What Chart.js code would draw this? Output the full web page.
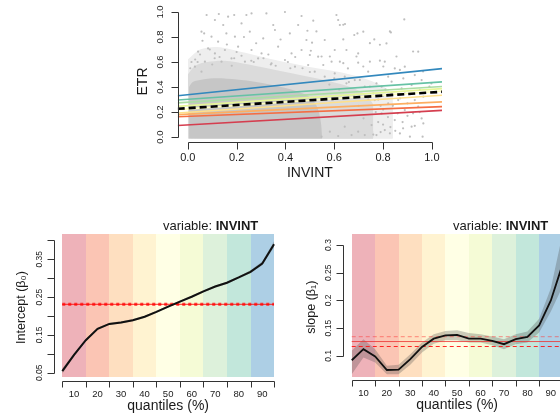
<!DOCTYPE html>
<html><head><meta charset="utf-8">
<script src="https://cdn.jsdelivr.net/npm/chart.js@4/dist/chart.umd.min.js"></script>
<style>
html,body{margin:0;padding:0;overflow:hidden;background:#fff;width:560px;height:414px;}
canvas{position:absolute;left:0;top:0;}
</style></head><body>
<canvas id="cTop" width="560" height="200"></canvas>
<canvas id="cLeft" width="300" height="414"></canvas>
<canvas id="cRight" width="600" height="414"></canvas>
<script>
// ---------------- DATA ----------------
const quantiles = [5,10,15,20,25,30,35,40,45,50,55,60,65,70,75,80,85,90,95];
const interceptEst  = [0.054,0.097,0.136,0.166,0.179,0.183,0.189,0.198,0.211,0.225,0.238,0.251,0.265,0.278,0.288,0.302,0.317,0.339,0.390];
const interceptLow  = [0.047,0.093,0.133,0.163,0.176,0.180,0.186,0.195,0.208,0.222,0.235,0.248,0.262,0.275,0.285,0.299,0.313,0.334,0.382];
const interceptHigh = [0.061,0.101,0.139,0.169,0.182,0.186,0.192,0.201,0.214,0.228,0.241,0.254,0.268,0.281,0.291,0.305,0.321,0.344,0.398];
const slopeEst  = [0.092,0.112,0.099,0.0745,0.075,0.094,0.116,0.131,0.137,0.1376,0.131,0.131,0.127,0.121,0.130,0.134,0.155,0.200,0.265];
const slopeLow  = [0.067,0.097,0.088,0.067,0.067,0.084,0.106,0.122,0.128,0.128,0.124,0.124,0.119,0.112,0.121,0.124,0.142,0.180,0.225];
const slopeHigh = [0.109,0.130,0.112,0.082,0.084,0.103,0.124,0.139,0.145,0.146,0.141,0.139,0.135,0.130,0.139,0.144,0.167,0.222,0.320];
const olsIntercept = 0.231, olsInterceptLow = 0.2295, olsInterceptHigh = 0.2325;
const olsSlope = 0.1258, olsSlopeLow = 0.1168, olsSlopeHigh = 0.1348;
const decileQuantiles = [10,20,30,40,50,60,70,80,90];
const bandCenters = [10,20,30,40,50,60,70,80,90];

const topXTicks = [0,0.2,0.4,0.6,0.8,1.0];
const topXLabels = ['0.0','0.2','0.4','0.6','0.8','1.0'];
const topYTicks = [0,0.2,0.4,0.6,0.8,1.0];
const topYLabels = ['0.0','0.2','0.4','0.6','0.8','1.0'];
const qTicks = [5,15,25,35,45,55,65,75,85,95];
const qLabelPos = [10,20,30,40,50,60,70,80,90];
const qLabels = ['10','20','30','40','50','60','70','80','90'];
const interceptTicks = [0.05,0.10,0.15,0.20,0.25,0.30,0.35,0.40];
const interceptTickLabels = ['0.05',null,'0.15',null,'0.25',null,'0.35',null];
const slopeTicks = [0.1,0.15,0.2,0.25,0.3];
const slopeTickLabels = ['0.1','0.15','0.2','0.25','0.3'];

// upper outlines of the dense parts of the ETR / INVINT cloud
const cloudOuterTop = [[0.0,0.62],[0.05,0.70],[0.12,0.72],[0.22,0.68],[0.35,0.62],[0.50,0.56],[0.62,0.52],[0.75,0.45],[0.83,0.36],[0.86,0.22],[0.86,0.08],[0.84,0.0]];
const cloudHaloTop = [[0.0,0.50],[0.03,0.57],[0.08,0.60],[0.15,0.61],[0.25,0.58],[0.35,0.54],[0.45,0.50],[0.55,0.46],[0.65,0.41],[0.72,0.35],[0.76,0.26],[0.78,0.14],[0.775,0.05],[0.76,0.0]];
const cloudCoreTop = [[0.005,0.40],[0.02,0.44],[0.06,0.46],[0.12,0.47],[0.20,0.46],[0.28,0.44],[0.36,0.41],[0.44,0.37],[0.50,0.32],[0.53,0.24],[0.545,0.12],[0.55,0.0]];
// individual sparse firms
const cloudPoints = [
[0.077,0.976],[0.127,0.984],[0.165,0.963],[0.19,0.976],[0.24,0.976],[0.261,0.989],[0.322,0.989],[0.398,1.0],[0.466,0.968],[0.111,0.936],[0.145,0.896],[0.22,0.909],[0.35,0.896],[0.452,0.896],[0.056,0.843],[0.067,0.829],[0.097,0.803],[0.124,0.763],[0.158,0.829],[0.193,0.803],[0.254,0.843],[0.309,0.789],[0.357,0.856],[0.418,0.829],[0.486,0.776],[0.042,0.683],[0.083,0.709],[0.111,0.669],[0.152,0.696],[0.206,0.723],[0.261,0.696],[0.302,0.669],[0.37,0.723],[0.425,0.669],[0.466,0.696],[0.5,0.656],[0.029,0.563],[0.056,0.523],[0.07,0.603],[0.138,0.603],[0.179,0.629],[0.234,0.603],[0.288,0.629],[0.343,0.589],[0.398,0.616],[0.439,0.563],[0.493,0.576],
[0.04,0.6],[0.1,0.58],[0.13,0.64],[0.18,0.57],[0.22,0.65],[0.27,0.6],[0.31,0.63],[0.36,0.57],[0.41,0.6],[0.47,0.55],[0.05,0.66],[0.09,0.7],[0.2,0.68],[0.33,0.66],[0.44,0.64],[0.16,0.74],[0.28,0.75],[0.06,0.77],[0.38,0.78],[0.23,0.8],
[0.609,0.976],[0.616,0.936],[0.887,0.941],[0.514,0.931],[0.623,0.896],[0.644,0.904],[0.49,0.85],[0.695,0.829],[0.682,0.816],[0.719,0.843],[0.832,0.837],[0.509,0.755],[0.561,0.776],[0.637,0.781],[0.764,0.781],[0.814,0.749],[0.504,0.69],[0.602,0.696],[0.65,0.696],[0.944,0.683],[0.698,0.669],[0.534,0.643],[0.623,0.603],[0.589,0.603],[0.698,0.595],[0.746,0.603],[0.787,0.611],[0.807,0.603],[0.889,0.563],[0.848,0.549],[0.656,0.549],[0.555,0.576],[0.739,0.523],[0.821,0.483],[0.883,0.469],[0.93,0.496],[0.958,0.456],[0.876,0.389],[0.917,0.416],[0.998,0.429],[0.835,0.349],[0.93,0.296],[0.965,0.323],[0.944,0.243],[0.889,0.216],[0.958,0.149],[0.965,0.109],[0.962,0.003],[0.917,0.083],[0.869,0.029],[0.848,0.136],[0.807,0.056],[0.773,0.016],[0.794,0.189],[0.753,0.096],[0.725,0.016],[0.821,0.269],[0.766,0.296],[0.698,0.043],[0.671,0.016],[0.643,0.083],[0.616,0.008],[0.582,0.043],[0.548,0.003],[0.862,0.296],[0.889,0.349],[0.794,0.403],[0.835,0.443],[0.773,0.429],[0.725,0.403],[0.684,0.456],[0.643,0.483],[0.602,0.509],[0.561,0.483],[0.52,0.523],
[0.8,0.22],[0.82,0.16],[0.78,0.12],[0.84,0.25],[0.86,0.19],[0.8,0.33],[0.83,0.08],[0.79,0.04],[0.88,0.12],[0.9,0.27],[0.87,0.31],[0.81,0.38],[0.85,0.05],[0.77,0.2],[0.78,0.3],[0.9,0.17],[0.93,0.09],[0.95,0.2],
[0.637,0.898],[0.828,0.845],[0.746,0.751],[0.787,0.738],[0.855,0.644],[0.923,0.684],[0.964,0.524],[0.869,0.537],[0.801,0.564],[0.719,0.564],[0.637,0.591],[0.548,0.644],[0.691,0.644],[0.582,0.644],[0.527,0.845],[0.746,0.404],[0.705,0.457],[0.65,0.43],[0.99,0.404],[0.951,0.377],[0.923,0.19],[0.882,0.07],[0.828,0.03],[0.91,0.003],
[0.58,0.42],[0.62,0.38],[0.68,0.33],[0.7,0.25],[0.72,0.15],[0.74,0.3],[0.66,0.44],[0.6,0.47],[0.5,0.52],[0.42,0.55],[0.34,0.58],[0.26,0.61],[0.19,0.63],[0.11,0.63],[0.03,0.62],[0.01,0.55],[0.015,0.6],[0.76,0.35],[0.79,0.25],[0.8,0.1],[0.76,0.02]
];

// ---------------- STYLE ----------------
const spectral = ['#D53E4F','#F46D43','#FDAE61','#FEE08B','#FFFFBF','#E6F598','#ABDDA4','#66C2A5','#3288BD'];
const FONT = '"Liberation Sans", Arial, Helvetica, sans-serif';
Chart.defaults.font.family = FONT;
Chart.defaults.animation = false;

function hexA(hex, a){
  const n = parseInt(hex.slice(1),16);
  return `rgba(${(n>>16)&255},${(n>>8)&255},${n&255},${a})`;
}

// R-style axes drawn with the chart's own scales
function rAxisPlugin(spec){
  return { id:'rAxis', afterDraw(chart){
    const {ctx, chartArea:a} = chart;
    const sx = chart.scales.x, sy = chart.scales.y;
    ctx.save();
    ctx.strokeStyle = '#333'; ctx.fillStyle = '#1a1a1a'; ctx.lineWidth = 1;
    const b = spec.bottom;
    const ay = Math.round(a.bottom + b.offset) + 0.5;
    ctx.beginPath();
    ctx.moveTo(Math.round(sx.getPixelForValue(b.ticks[0]))+0.5, ay);
    ctx.lineTo(Math.round(sx.getPixelForValue(b.ticks[b.ticks.length-1]))+0.5, ay);
    b.ticks.forEach(t=>{ const X = Math.round(sx.getPixelForValue(t))+0.5; ctx.moveTo(X, ay); ctx.lineTo(X, ay + b.tickLen); });
    ctx.stroke();
    ctx.font = b.font; ctx.textAlign = 'center'; ctx.textBaseline = 'middle';
    b.labelAt.forEach((v,i)=>{ if(b.labels[i]!=null) ctx.fillText(b.labels[i], sx.getPixelForValue(v), ay + b.labelGap); });
    const l = spec.left;
    const ax = Math.round(a.left + l.offset) + 0.5;
    ctx.beginPath();
    ctx.moveTo(ax, Math.round(sy.getPixelForValue(l.ticks[0]))+0.5);
    ctx.lineTo(ax, Math.round(sy.getPixelForValue(l.ticks[l.ticks.length-1]))+0.5);
    l.ticks.forEach(t=>{ const Y = Math.round(sy.getPixelForValue(t))+0.5; ctx.moveTo(ax, Y); ctx.lineTo(ax - l.tickLen, Y); });
    ctx.stroke();
    ctx.font = l.font;
    l.ticks.forEach((v,i)=>{ if(l.labels[i]!=null){ ctx.save(); ctx.translate(ax - l.labelGap, sy.getPixelForValue(v)); ctx.rotate(-Math.PI/2); ctx.fillText(l.labels[i],0,0); ctx.restore(); } });
    const t = spec.titles;
    ctx.font = t.xFont; ctx.fillText(t.x, (a.left+a.right)/2, ay + t.xGap);
    ctx.save(); ctx.font = t.yFont; ctx.translate(ax - t.yGap, t.yCenter!=null ? t.yCenter : (a.top+a.bottom)/2); ctx.rotate(-Math.PI/2); ctx.fillText(t.y,0,0); ctx.restore();
    if(t.main){
      ctx.textAlign = 'left';
      ctx.font = 'bold ' + t.mainFont; const wb = ctx.measureText(t.mainBold).width;
      ctx.font = t.mainFont; const wn = ctx.measureText(t.main).width;
      const right = a.right - t.mainRightInset, yy = a.top - t.mainGap;
      ctx.fillText(t.main, right - wb - wn, yy);
      ctx.font = 'bold ' + t.mainFont; ctx.fillText(t.mainBold, right - wb, yy);
    }
    ctx.restore();
  }};
}

// coloured quantile bands behind the coefficient curves
function bandPlugin(bottomValue){
  return { id:'bands', beforeDatasetsDraw(chart){
    const {ctx} = chart; const sx = chart.scales.x, sy = chart.scales.y;
    ctx.save();
    bandCenters.forEach((c,i)=>{
      const x0 = Math.round(sx.getPixelForValue(c-5)), x1 = Math.round(sx.getPixelForValue(c+5));
      const y0 = Math.round(sy.getPixelForValue(sy.max)), y1 = Math.round(sy.getPixelForValue(bottomValue));
      ctx.fillStyle = hexA(spectral[i], 0.4);
      ctx.fillRect(x0, y0, x1-x0, y1-y0);
    });
    ctx.restore();
  }};
}

// ---------------- TOP: scatter with quantile lines ----------------
const topXMin = -0.0415, topXMax = 1.0415, topYMin = -0.042, topYMax = 1.04;
const pts = arr => arr.map(p=>({x:p[0], y:p[1]}));
const abline = (a,b) => [{x:topXMin, y:a + b*topXMin},{x:topXMax, y:a + b*topXMax}];

const topDatasets = [
  {data: pts(cloudOuterTop), fill:{value:-0.012}, backgroundColor:'#EEEEEE', borderWidth:0, pointRadius:0, tension:0.3, order:31},
  {data: pts(cloudHaloTop), fill:{value:-0.012}, backgroundColor:'#DBDBDB', borderWidth:0, pointRadius:0, tension:0.3, order:30},
  {data: pts(cloudCoreTop), fill:{value:-0.012}, backgroundColor:'#C6C6C6', borderWidth:0, pointRadius:0, tension:0.3, order:29},
  {data: pts(cloudPoints), showLine:false, pointRadius:1.1, pointBackgroundColor:'#BEBEBE', pointBorderWidth:0, order:28}
];
decileQuantiles.forEach((q,i)=>{
  const k = quantiles.indexOf(q);
  topDatasets.push({data: abline(interceptEst[k], slopeEst[k]), borderColor: spectral[i], borderWidth:1.6, pointRadius:0, fill:false, order:20-i});
});
topDatasets.push({data: abline(olsIntercept, olsSlope), borderColor:'#000', borderWidth:2.6, borderDash:[7,4], pointRadius:0, fill:false, order:0});

new Chart(document.getElementById('cTop'), {
  type:'line',
  data:{datasets: topDatasets},
  options:{
    responsive:false, animation:false,
    layout:{padding:{left:177.7, right:560-442, top:7, bottom:200-142.3}},
    plugins:{legend:{display:false}, tooltip:{enabled:false}},
    scales:{x:{type:'linear', min:topXMin, max:topXMax, display:false}, y:{type:'linear', min:topYMin, max:topYMax, display:false}}
  },
  plugins:[rAxisPlugin({
    bottom:{offset:0, ticks:topXTicks, labelAt:topXTicks, labels:topXLabels, tickLen:7, labelGap:15.7, font:'11px '+FONT},
    left:{offset:0, ticks:topYTicks, labels:topYLabels, tickLen:7, labelGap:17.7, font:'9.5px '+FONT},
    titles:{x:'INVINT', xFont:'14px '+FONT, xGap:30.5, y:'ETR', yFont:'14px '+FONT, yGap:35.2, yCenter:81.5}
  })]
});

// ---------------- BOTTOM LEFT: intercept ----------------
const qx = arr => quantiles.map((q,i)=>({x:q, y:arr[i]}));
const hline = v => [{x:quantiles[0], y:v},{x:quantiles[quantiles.length-1], y:v}];

new Chart(document.getElementById('cLeft'), {
  type:'line',
  data:{datasets:[
    {data: qx(interceptLow), borderWidth:0, pointRadius:0, fill:false, order:10},
    {data: qx(interceptHigh), borderWidth:0, pointRadius:0, fill:'-1', backgroundColor:'rgba(70,70,70,0.28)', order:9},
    {data: qx(interceptEst), borderColor:'#111', borderWidth:2, pointRadius:0, fill:false, order:1},
    {data: hline(olsIntercept), borderColor:'rgba(255,0,0,0.85)', borderWidth:1, pointRadius:0, fill:false, order:2},
    {data: hline(olsInterceptLow), borderColor:'rgba(255,40,40,0.85)', borderWidth:2, borderDash:[3,3], pointRadius:0, fill:false, order:2},
    {data: hline(olsInterceptHigh), borderColor:'rgba(255,40,40,0.85)', borderWidth:2, borderDash:[3,3], pointRadius:0, fill:false, order:2}
  ]},
  options:{
    responsive:false, animation:false,
    layout:{padding:{left:53.8, right:300-282.5, top:234, bottom:414-381}},
    plugins:{legend:{display:false}, tooltip:{enabled:false}},
    scales:{x:{type:'linear', min:1.4, max:98.6, display:false}, y:{type:'linear', min:0.02803, max:0.41697, display:false}}
  },
  plugins:[bandPlugin(0.0378), rAxisPlugin({
    bottom:{offset:0, ticks:qTicks, labelAt:qLabelPos, labels:qLabels, tickLen:6, labelGap:12.5, font:'9.5px '+FONT},
    left:{offset:0, ticks:interceptTicks, labels:interceptTickLabels, tickLen:7, labelGap:15, font:'8.5px '+FONT},
    titles:{x:'quantiles (%)', xFont:'14px '+FONT, xGap:24.5, y:'Intercept (β₀)', yFont:'12.5px '+FONT, yGap:32.8,
            main:'variable: ', mainBold:'INVINT', mainFont:'13px '+FONT, mainRightInset:24.2, mainGap:8}
  })]
});

// ---------------- BOTTOM RIGHT: slope ----------------
new Chart(document.getElementById('cRight'), {
  type:'line',
  data:{datasets:[
    {data: qx(slopeLow), borderWidth:0, pointRadius:0, fill:false, order:10},
    {data: qx(slopeHigh), borderWidth:0, pointRadius:0, fill:'-1', backgroundColor:'rgba(70,70,70,0.28)', order:9},
    {data: qx(slopeEst), borderColor:'#111', borderWidth:1.8, pointRadius:0, fill:false, order:1},
    {data: hline(olsSlope), borderColor:'rgba(235,50,50,0.8)', borderWidth:1, pointRadius:0, fill:false, order:2},
    {data: hline(olsSlopeLow), borderColor:'rgba(255,20,20,0.9)', borderWidth:1.2, borderDash:[4,3], pointRadius:0, fill:false, order:2},
    {data: hline(olsSlopeHigh), borderColor:'rgba(255,60,60,0.45)', borderWidth:1.2, borderDash:[4,3], pointRadius:0, fill:false, order:2}
  ]},
  options:{
    responsive:false, animation:false,
    layout:{padding:{left:343.3, right:600-571, top:234, bottom:414-380.3}},
    plugins:{legend:{display:false}, tooltip:{enabled:false}},
    scales:{x:{type:'linear', min:1.4, max:98.6, display:false}, y:{type:'linear', min:0.05586, max:0.31982, display:false}}
  },
  plugins:[bandPlugin(0.0627), rAxisPlugin({
    bottom:{offset:0, ticks:qTicks, labelAt:qLabelPos, labels:qLabels, tickLen:6, labelGap:12.8, font:'9.5px '+FONT},
    left:{offset:0, ticks:slopeTicks, labels:slopeTickLabels, tickLen:7, labelGap:15, font:'8.5px '+FONT},
    titles:{x:'quantiles (%)', xFont:'14px '+FONT, xGap:24.5, y:'slope (β₁)', yFont:'12.5px '+FONT, yGap:32.3,
            main:'variable: ', mainBold:'INVINT', mainFont:'13px '+FONT, mainRightInset:22.7, mainGap:8}
  })]
});
</script>
</body></html>
